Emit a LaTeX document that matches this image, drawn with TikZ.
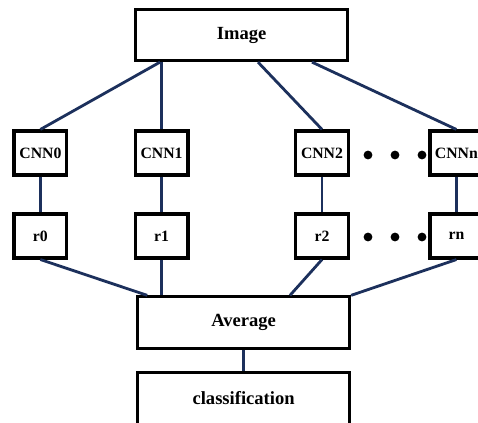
\documentclass[tikz,border=0pt]{standalone}
\usepackage{fontspec}
\setmainfont{Liberation Serif}
\usetikzlibrary{positioning, calc}

\definecolor{linknavy}{RGB}{28,48,92}

\begin{document}
\begin{tikzpicture}[
    % Input / output box style
    bigbox/.style={
        rectangle,
        draw=black,
        line width=2.2pt,
        fill=white,
        minimum width=5.3cm,
        minimum height=1.28cm,
        font=\fontsize{13.2}{15}\selectfont\bfseries,
        align=center
    },
    % Network box style
    netbox/.style={
        rectangle,
        draw=black,
        line width=2.2pt,
        fill=white,
        minimum width=1.32cm,
        minimum height=1.1cm,
        inner sep=1pt,
        font=\fontsize{11.2}{13}\selectfont\bfseries,
        align=center
    },
    link/.style={
        line width=2pt,
        linknavy
    },
    dot/.style={
        circle,
        fill=black,
        inner sep=0pt,
        minimum size=0.22cm
    }
]

\useasboundingbox (0,0) rectangle (11.95,10.575);

% === Top: input image ===
\node[bigbox] (img) at (6.04, 9.70) {Image};

% === Row 1: CNN models ===
\node[netbox] (cnn0) at (1.01, 6.75) {CNN0};
\node[netbox] (cnn1) at (4.04, 6.75) {CNN1};
\node[netbox] (cnn2) at (8.05, 6.75) {CNN2};
\node[netbox] (cnnn) at (11.41, 6.75) {CNNn};

% === Row 2: results ===
\node[netbox] (r0) at (1.01, 4.675) {r0};
\node[netbox] (r1) at (4.04, 4.675) {r1};
\node[netbox] (r2) at (8.05, 4.675) {r2};
\node[netbox] (rn) at (11.41, 4.675) {rn};

% === Ellipsis dots ===
\node[dot] (dotA1) at (9.2, 6.7) {};
\node[dot] (dotA2) at (9.875, 6.7) {};
\node[dot] (dotA3) at (10.55, 6.7) {};
\node[dot] (dotB1) at (9.2, 4.65) {};
\node[dot] (dotB2) at (9.875, 4.65) {};
\node[dot] (dotB3) at (10.55, 4.65) {};

% === Bottom: average and classification ===
\node[bigbox] (avg) at (6.09, 2.5125) {Average};
\node[bigbox] (cls) at (6.09, 0.6125) {classification};

% === Image to CNNs ===
\draw[link] ([xshift=-2.04cm]img.south) -- (cnn0.north);
\draw[link] (img.south -| cnn1.north) -- (cnn1.north);
\draw[link] ([xshift=0.41cm]img.south) -- (cnn2.north);
\draw[link] ([xshift=1.76cm]img.south) -- (cnnn.north);

% === CNNs to results ===
\draw[link] (cnn0) -- (r0);
\draw[link] (cnn1) -- (r1);
\draw[link] (cnn2) -- (r2);
\draw[link] (cnnn) -- (rn);

% === Results to average ===
\draw[link] (r0.south) -- ([xshift=-2.41cm]avg.north);
\draw[link] (r1.south) -- (avg.north -| r1.south);
\draw[link] (r2.south) -- ([xshift=1.16cm]avg.north);
\draw[link] (rn.south) -- (avg.north east);

% === Average to classification ===
\draw[link] (avg) -- (cls);

\end{tikzpicture}
\end{document}
